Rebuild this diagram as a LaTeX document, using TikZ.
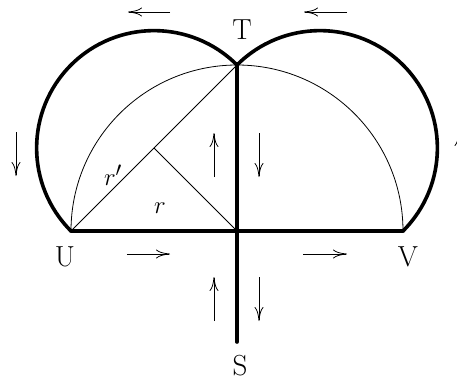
\documentclass[tikz,border=0pt]{standalone}
\usepackage{tikz}
\usetikzlibrary{arrows.meta, positioning, calc}

\begin{document}
\begin{tikzpicture}[x=1pt, y=1pt, every node/.style={font=\fontsize{29}{34}\selectfont, inner sep=1pt},
        heavy/.style={line width=3.6pt, line join=round, line cap=round},
        light/.style={line width=0.8pt},
        flow/.style={-{To[length=14pt, width=9pt]}, line width=0.8pt}]
        \clip (-237,-150) rectangle (220,231);
        \coordinate (O) at (0,0);
        \coordinate (U) at (-166,0);
        \coordinate (V) at (166,0);
        \coordinate (T) at (0,166);
        \coordinate (S) at (0,-111);
        \coordinate (M) at (-83,83);

        % thin construction
        \draw[light] (V) arc[start angle=0, end angle=180, radius=166];
        \draw[light] (U) -- (T);
        \draw[light] (M) -- (O);

        % thick outline
        \draw[heavy] (U) arc[start angle=225, end angle=45, radius=117.38];
        \draw[heavy] (V) arc[start angle=-45, end angle=135, radius=117.38];
        \draw[heavy] (U) -- (V);
        \draw[heavy] (T) -- (S);

        \node (labT) at (5,201) {T};
        \node (labU) at (-172,-26) {U};
        \node (labV) at (171,-26) {V};
        \node (labS) at (3,-135) {S};
        \node (labrp) at (-124,56) {$r'$};
        \node (labr) at (-77,23) {$r$};

        % directions
        \draw[flow] (-67,219) -- (-109,219);
        \draw[flow] (110,219) -- (67,219);
        \draw[flow] (-221,99) -- (-221,55);
        \draw[flow] (222,55) -- (222,99);
        \draw[flow] (-23,54) -- (-23,98);
        \draw[flow] (22,98) -- (22,54);
        \draw[flow] (-110,-23) -- (-67,-23);
        \draw[flow] (66,-23) -- (110,-23);
        \draw[flow] (-23,-90) -- (-23,-46);
        \draw[flow] (22,-46) -- (22,-90);
    \end{tikzpicture}
\end{document}
